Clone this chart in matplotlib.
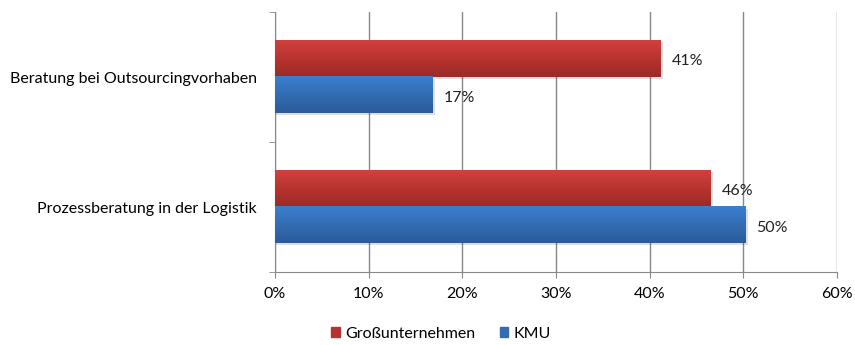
import numpy as np
import matplotlib.pyplot as plt
from matplotlib.colors import LinearSegmentedColormap
from matplotlib.patches import Patch

categories = ['Prozessberatung in der Logistik', 'Beratung bei Outsourcingvorhaben']
gross = [46.5, 41.2]
kmu = [50.2, 16.8]
gross_labels = ['46%', '41%']
kmu_labels = ['50%', '17%']
series_names = ['Großunternehmen', 'KMU']

plt.rcParams['font.family'] = ['Lato', 'DejaVu Sans']
FS = 11.5

fig = plt.figure(figsize=(8.55, 3.45), dpi=100)
ax = fig.add_axes([0.3216, 0.2116, 0.979 - 0.3216, 0.965 - 0.2116])

y = np.arange(len(categories))
h = 0.28

red_cmap = LinearSegmentedColormap.from_list('r', ['#9c2a28', '#b8332f', '#d0413e'])
blue_cmap = LinearSegmentedColormap.from_list('b', ['#2c5b98', '#336cb4', '#3c7fce'])
grad = np.linspace(0, 1, 50).reshape(-1, 1)


def grad_bars(vals, pos, cmap):
    bars = ax.barh(pos, vals, height=h, color='none', edgecolor='none', zorder=3)
    for b in bars:
        x0, y0 = b.get_x(), b.get_y()
        w, hh = b.get_width(), b.get_height()
        # soft shadow
        ax.add_patch(plt.Rectangle((x0, y0 - 0.012), w + 0.25, hh, color='#000000',
                                   alpha=0.12, lw=0, zorder=2))
        ax.imshow(grad, cmap=cmap, extent=[x0, x0 + w, y0, y0 + hh], origin='lower',
                  aspect='auto', zorder=3)
    return bars


grad_bars(gross, y + h / 2, red_cmap)
grad_bars(kmu, y - h / 2, blue_cmap)

for i in range(len(categories)):
    ax.text(gross[i] + 1.2, y[i] + h / 2 - 0.02, gross_labels[i], va='center', ha='left',
            fontsize=FS, color='#222222', zorder=4)
    ax.text(kmu[i] + 1.2, y[i] - h / 2 - 0.02, kmu_labels[i], va='center', ha='left',
            fontsize=FS, color='#222222', zorder=4)

ax.set_xlim(0, 60)
ax.set_ylim(-0.5, len(categories) - 0.5)
ax.set_xticks(np.arange(0, 61, 10))
ax.set_xticklabels([f'{v}%' for v in range(0, 61, 10)], fontsize=FS)
ax.set_yticks(y)
ax.set_yticklabels(categories, fontsize=FS)
ax.tick_params(axis='y', length=0, pad=13)
ax.set_yticks(np.arange(-0.5, len(categories), 1), minor=True)
ax.tick_params(axis='y', which='minor', length=4, color='#888888')
ax.tick_params(axis='x', length=4, color='#888888', pad=7)

ax.grid(axis='x', color='#888888', lw=1, zorder=0)
ax.set_axisbelow(True)
for s in ['top', 'right']:
    ax.spines[s].set_visible(False)
for s in ['left', 'bottom']:
    ax.spines[s].set_color('#888888')

handles = [Patch(color='#b8332f'), Patch(color='#336cb4')]
fig.legend(handles, series_names, loc='center', bbox_to_anchor=(0.516, 0.032), ncol=2,
           frameon=False, fontsize=FS, handlelength=0.55, handleheight=0.55,
           handletextpad=0.35, columnspacing=1.5)

fig.savefig('out.png', dpi=100)
